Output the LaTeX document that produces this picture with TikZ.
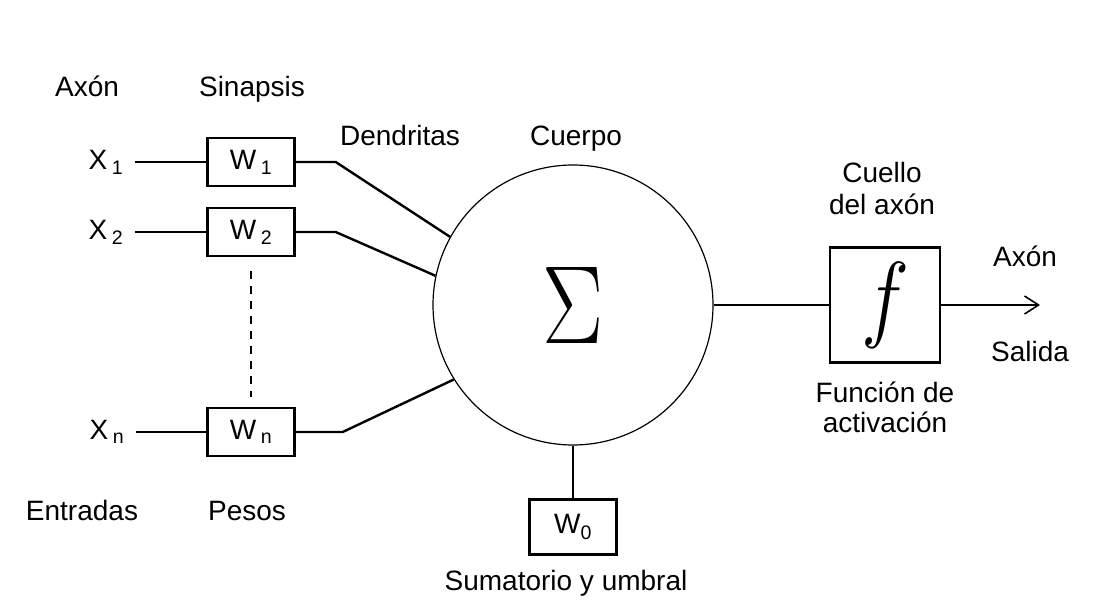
\documentclass[tikz,border=0pt]{standalone}
\usepackage{fontspec}
\setmainfont{Liberation Sans}
\usetikzlibrary{arrows.meta}

\tikzset{
  wbox/.style={draw, line width=2.4pt, minimum width=87pt, minimum height=48pt, inner sep=0pt},
  wire/.style={line width=2.4pt},
  lbl/.style={anchor=base},
}

\begin{document}
\begin{tikzpicture}[x=1pt,y=1pt, every node/.style={font=\fontsize{28}{32}\selectfont}]
\useasboundingbox (0,0) rectangle (1094,605);

% inputs and weights
\node (x1) at (106,443) {X\,\textsubscript{1}};
\node (x2) at (106,373) {X\,\textsubscript{2}};
\node (xn) at (107,173) {X\,\textsubscript{n}};
\node [wbox] (w1) at (251,443) {W\,\textsubscript{1}};
\node [wbox] (w2) at (251,373) {W\,\textsubscript{2}};
\node [wbox] (wn) at (251,173) {W\,\textsubscript{n}};
\draw [wire, shorten <=8pt] (x1) -- (w1);
\draw [wire, shorten <=8pt] (x2) -- (w2);
\draw [wire, shorten <=8pt] (xn) -- (wn);
\draw [line width=1.5pt, dash pattern=on 8pt off 7pt, shorten <=14pt, shorten >=10pt] (w2) -- (wn);

% body
\node [draw, circle, line width=1.2pt, minimum size=280pt, inner sep=0pt] (sum) at (573,300) {\resizebox{61pt}{76pt}{$\Sigma$}};
\draw [wire] (w1.east) -- ++(40,0) -- (sum.151);
\draw [wire] (w2.east) -- ++(40,0) -- (sum.168);
\draw [wire] (wn.east) -- ++(47,0) -- (sum.212);

\node [wbox, minimum height=55pt] (w0) at (573,78) {W\textsubscript{0}};
\draw [wire] (sum) -- (w0);

% activation
\node [draw, line width=2.4pt, minimum width=110pt, minimum height=115pt, inner sep=0pt] (f) at (885,300) {\resizebox{48pt}{67pt}{$f$}};
\coordinate (out) at (1040,300);
\draw [wire] (sum) -- (f);
\draw [wire, -{Straight Barb[length=14pt,width=18pt,line width=1.6pt]}] (f) -- (out);

% labels
\node [lbl] (axon) at (87,508) {Axón};
\node [lbl] (sinapsis) at (252,508) {Sinapsis};
\node [lbl] (dendritas) at (400,459) {Dendritas};
\node [lbl] (cuerpo) at (576,459) {Cuerpo};
\node [lbl] (entradas) at (82,85) {Entradas};
\node [lbl] (pesos) at (247,85) {Pesos};
\node [lbl] (umbral) at (566,15) {Sumatorio y umbral};
\node [lbl] (cuello) at (882,422) {Cuello};
\node [lbl] (delaxon) at (882,390) {del axón};
\node [lbl] (axonout) at (1025,338) {Axón};
\node [lbl] (salida) at (1030,243) {Salida};
\node [lbl] (funcion) at (885,202) {Función de};
\node [lbl] (activacion) at (885,172) {activación};
\end{tikzpicture}
\end{document}
